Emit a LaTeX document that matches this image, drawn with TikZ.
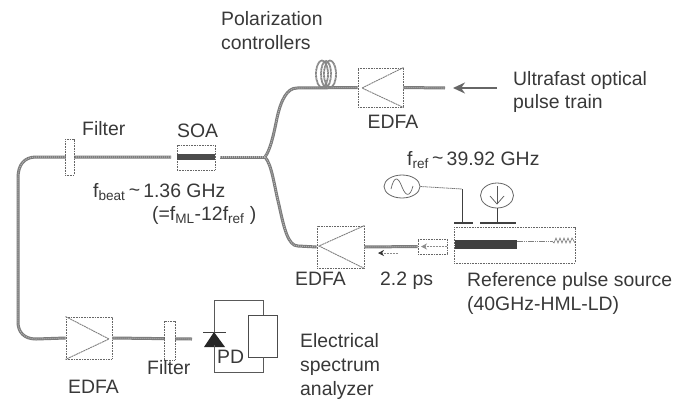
\documentclass[tikz,border=0pt]{standalone}
\usepackage{fontspec}
\usetikzlibrary{arrows.meta,shapes.geometric}
\setmainfont{Liberation Sans}
\begin{document}
\begin{tikzpicture}[x=1pt,y=-1pt,
  fiber/.style={draw=black!52,line width=3pt},
  fibertex/.style={draw=white!70!black,line width=1.1pt,dash pattern=on 1pt off 1pt},
  dbox/.style={draw=black!60,line width=0.9pt,dash pattern=on 1pt off 0.6pt,inner sep=0pt,minimum width=#1},
  amp/.style={draw=black!50,line width=0.9pt,dash pattern=on 2pt off 0.6pt},
  wire/.style={draw=black!75,line width=0.8pt},
  thinw/.style={draw=black!65,line width=0.8pt},
  lab/.style={anchor=base west,inner sep=0pt,font=\fontsize{19.4}{22}\selectfont,text=black!78},
  labc/.style={anchor=base,inner sep=0pt,font=\fontsize{19.4}{22}\selectfont,text=black!78},
  coilw/.style={draw=black!48,line width=1.8pt,dash pattern=on 1pt off 0.4pt}]
\useasboundingbox (0,0) rectangle (676,399);
% named points
\coordinate (topL) at (297,88);
\coordinate (junc) at (265,157);
\coordinate (botL) at (298,246);
% component boxes
\node[dbox=45pt,minimum height=39pt] (edfaT) at (380.5,87.5) {};
\node[dbox=47pt,minimum height=42pt] (edfaR) at (340.5,247) {};
\node[dbox=46pt,minimum height=42pt] (edfaB) at (89,338) {};
\node[dbox=9pt,minimum height=36pt] (filtA) at (69.5,157) {};
\node[dbox=11pt,minimum height=39pt] (filtB) at (169.5,340.5) {};
\node[dbox=38pt,minimum height=25pt] (soa) at (196,157.5) {};
\node[dbox=29pt,minimum height=15pt] (iso) at (432.5,246.5) {};
\node[dbox=121pt,minimum height=36pt] (ld) at (514.5,245) {};
\coordinate (topEnd) at (445,88);
\coordinate (arrS) at (497,88);
\coordinate (arrE) at (453,88);
\coordinate (soaL) at (171,157);
\coordinate (soaR) at (220,157);
\coordinate (pdIn) at (192,339);
% fibres
\foreach \s in {fiber,fibertex}{
  \draw[\s] (edfaT.west) -- (topL) .. controls (287,88) and (281,100) .. (277,118) .. controls (273,138) and (270,150) .. (junc);
  \draw[\s] (junc) .. controls (272,165) and (274,185) .. (279,205) .. controls (284,228) and (288,246) .. (botL) -- (edfaR.west);
  \draw[\s] (edfaT.east) -- (topEnd);
  \draw[\s] (junc) -- (soaR);
  \draw[\s] (soaL) -- (36,157) .. controls (24,157) and (18,165) .. (18,178) -- (18,322) .. controls (18,332) and (24,339) .. (36,339) -- (edfaB.west);
  \draw[\s] (edfaB.east) -- (pdIn);
  \draw[\s] (edfaR.east) -- (iso.west);
}
% redraw boxes' interiors where fibres pass
\fill[white] (65.5,139.5) rectangle (73.5,174.5);
\fill[white] (164.5,321.5) rectangle (174.5,359.5);
\node[dbox=9pt,minimum height=36pt] at (69.5,157) {};
\node[dbox=11pt,minimum height=39pt] at (169.5,340.5) {};
% coil
\draw[coilw] (322,74) ellipse (6pt and 13.5pt);
\draw[coilw] (330,74) ellipse (6pt and 13.5pt);
\draw[coilw] (326,74) ellipse (5pt and 13pt);
% amplifiers
\draw[amp] (edfaT.north east) -- (362,88) -- (edfaT.south east);
\draw[amp] (edfaR.north east) -- (319,246) -- (edfaR.south east);
\draw[amp] (edfaB.north west) -- (109,339) -- (edfaB.south west);
% SOA band
\fill[black!70] (soa.west |- 0,154) rectangle (soa.east |- 0,160);
% input arrow
\draw[draw=black!60,line width=2pt,-{Stealth[length=12pt,width=11pt]}] (arrS) -- (arrE);
% isolator
\draw[draw=black!45,line width=0.7pt,dash pattern=on 2pt off 1pt,-{Stealth[length=6pt,width=6pt]}] (iso.east) -- (iso.center) -- (421,246.5);
% small pulse arrow
\coordinate (pS) at (398,253);\coordinate (pE) at (378,253);
\draw[draw=black!45,line width=0.7pt,dash pattern=on 2pt off 1pt,-{Stealth[length=6pt,width=6pt,black!80]}] (pS) -- (pE);
% LD
\fill[black!75] (454.5,240) rectangle (517,248.5);
\coordinate (ldA) at (517,241);\coordinate (ldB) at (552,241);
\draw[draw=black!50,line width=0.7pt,dash pattern=on 1.5pt off 0.7pt] (ldA) -- (ldB);
\draw[draw=black!55,line width=0.6pt] (ldB) -- (554,243) -- (556,238) -- (558,243) -- (560,238) -- (562,243) -- (564,238) -- (566,243) -- (568,238) -- (570,243) -- (572,238) -- (575,243);
% electrodes and sources
\coordinate (e1) at (462,223);\coordinate (e2) at (497,223);
\draw[wire,line width=1.1pt] (454,223) -- (473,223);
\draw[wire,line width=1.1pt] (480,223) -- (516,223);
\node[draw=black!60,line width=0.8pt,ellipse,minimum width=36pt,minimum height=23pt,inner sep=0pt] (sine) at (402,186.5) {};
\draw[draw=black!60,line width=0.7pt] (391,189) .. controls (394,176) and (398,176) .. (402,187) .. controls (406,197) and (410,197) .. (413,186);
\draw[draw=black!60,line width=0.8pt] (497,195.5) circle (16.5pt and 12.5pt);
\node[inner sep=0pt,minimum size=0pt] (dcB) at (497,208) {};
\draw[draw=black!55,line width=0.8pt,dash pattern=on 1.5pt off 0.6pt] (sine.east) -- (462,189);
\draw[wire] (462,189) -- (e1);
\draw[wire] (dcB) -- (e2);
\draw[draw=black!65,line width=0.7pt] (497,186) -- (497,204);
\draw[draw=black!65,line width=0.7pt] (490,196) -- (497,204) -- (504,196);
% photodiode
\coordinate (d1) at (214,332);\coordinate (d2) at (214,345);
\fill[black!85] (d1) -- (225,347) -- (204,347) -- cycle;
\draw[wire,line width=1pt] (203,332) -- (226,332);
\node[draw=black!70,line width=0.8pt,minimum width=29pt,minimum height=42pt,inner sep=0pt] (esa) at (262.5,336) {};
\draw[thinw] (d1) -- (214,300) -- (263,300) -- (esa.north -| 263,0);
\draw[thinw] (d2) -- (214,372) -- (263,372) -- (esa.south -| 263,0);
% texts
\node[lab] (t1) at (221,25) {Polarization};
\node[lab] (t2) at (221,49) {controllers};
\node[lab] (t3) at (513,85) {Ultrafast optical};
\node[lab] (t4) at (513,108) {pulse train};
\node[labc] (t5) at (393,128) {EDFA};
\node[lab] (t6) at (82,135) {Filter};
\node[lab] (t7) at (177,137) {SOA};
\node[lab] (t8) at (93,197) {f\textsubscript{beat}\,\raisebox{1pt}{\textasciitilde}\,1.36 GHz};
\node[lab] (t9) at (152,220) {(=f\textsubscript{ML}-12f\textsubscript{ref} )};
\node[lab] (t10) at (407,165) {f\textsubscript{ref}\,\raisebox{1pt}{\textasciitilde}\,39.92 GHz};
\node[labc] (t11) at (320.5,285) {EDFA};
\node[lab] (t12) at (380,285) {2.2 ps};
\node[lab] (t13) at (467,286) {Reference pulse source};
\node[lab] (t14) at (467,310) {(40GHz-HML-LD)};
\node[labc] (t15) at (93.5,393) {EDFA};
\node[lab] (t16) at (147,374) {Filter};
\node[lab] (t17) at (217,363) {PD};
\node[lab] (t18) at (300,347) {Electrical};
\node[lab] (t19) at (300,371) {spectrum};
\node[lab] (t20) at (300,395) {analyzer};
\end{tikzpicture}
\end{document}
